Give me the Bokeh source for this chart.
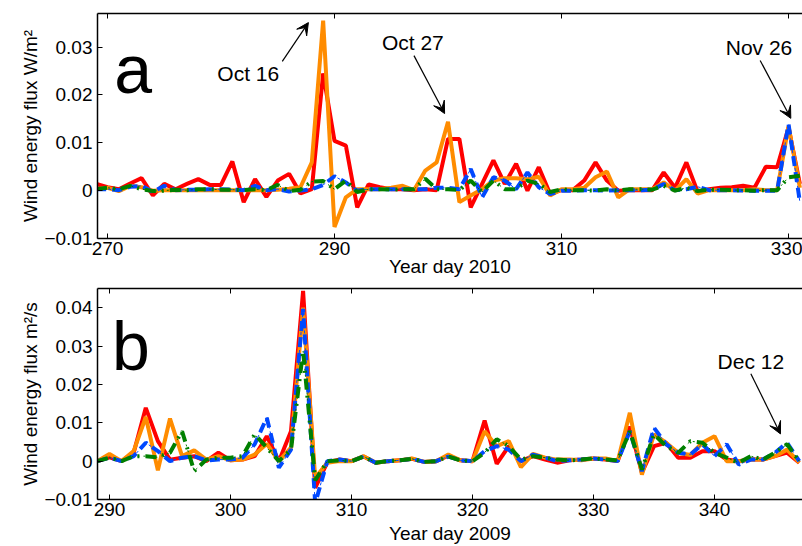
from bokeh.plotting import figure
from bokeh.layouts import column
from bokeh.models import (Arrow, VeeHead, Label, FixedTicker, LinearAxis,
                          CustomJSTickFormatter, Range1d)
from bokeh.embed import file_html
from bokeh.resources import INLINE

# ---------------- data: panel a (year day 2010) ----------------
days_a = list(range(269, 332))
red_a = [0.0014, 0.0007, 0.0003, 0.0015, 0.0026, -0.0010, 0.0014, 0.0003, 0.0014, 0.0024,
         0.0012, 0.0012, 0.0061, -0.0024, 0.0024, -0.0013, 0.0021, 0.0035, -0.0006, 0.0003,
         0.0245, 0.0104, 0.0094, -0.0035, 0.0013, 0.0007, 0.0003, 0.0003, 0.0001, 0.0003,
         0.0001, 0.0108, 0.0108, -0.0035, 0.0014, 0.0063, 0.0014, 0.0056, 0.0000, 0.0049,
         -0.0007, 0.0001, 0.0001, 0.0021, 0.0059, 0.0021, 0.0000, 0.0001, 0.0001, 0.0001,
         0.0038, 0.0006, 0.0059, -0.0003, 0.0003, 0.0006, 0.0007, 0.0010, 0.0006, 0.0050,
         0.0049, 0.0132, 0.0014]
orange_a = [0.0003, 0.0006, -0.0001, 0.0010, 0.0007, 0.0000, 0.0001, 0.0001, 0.0001, 0.0001,
            0.0001, 0.0001, 0.0001, 0.0001, 0.0001, 0.0001, 0.0002, 0.0004, 0.0007, 0.0059,
            0.0355, -0.0076, -0.0014, 0.0003, 0.0003, 0.0003, 0.0006, 0.0010, 0.0001, 0.0042,
            0.0059, 0.0144, -0.0024, -0.0010, 0.0003, 0.0021, 0.0026, 0.0026, 0.0024, 0.0029,
            -0.0010, 0.0003, 0.0003, 0.0006, 0.0028, 0.0040, -0.0014, 0.0003, 0.0003, 0.0003,
            0.0017, 0.0000, 0.0024, -0.0006, 0.0001, 0.0001, 0.0001, 0.0001, 0.0003, 0.0001,
            0.0001, 0.0135, 0.0006]
blue_a = [0.0003, 0.0003, 0.0001, 0.0008, 0.0010, -0.0003, 0.0010, 0.0001, 0.0002, 0.0002,
          0.0003, 0.0003, 0.0002, 0.0001, 0.0010, 0.0001, 0.0003, -0.0002, 0.0000, 0.0003,
          0.0012, 0.0030, 0.0017, 0.0000, 0.0003, 0.0003, 0.0003, 0.0003, 0.0003, 0.0003,
          0.0006, 0.0006, 0.0003, 0.0045, -0.0014, 0.0028, 0.0021, 0.0003, 0.0038, 0.0007,
          -0.0007, 0.0000, 0.0000, 0.0001, 0.0001, 0.0000, 0.0001, 0.0001, 0.0001, 0.0002,
          0.0014, 0.0001, 0.0003, 0.0008, 0.0001, 0.0001, 0.0001, 0.0000, 0.0000, 0.0000,
          0.0000, 0.0139, -0.0024]
green_a = [0.0003, 0.0006, 0.0003, 0.0010, 0.0003, -0.0001, 0.0000, 0.0002, 0.0001, 0.0003,
           0.0003, 0.0002, 0.0002, 0.0001, 0.0003, 0.0001, 0.0012, -0.0001, 0.0002, 0.0019,
           0.0020, 0.0003, 0.0021, -0.0003, 0.0003, 0.0003, 0.0002, 0.0003, 0.0003, 0.0025,
           0.0003, 0.0003, 0.0001, 0.0021, -0.0003, 0.0021, 0.0003, 0.0003, 0.0021, 0.0014,
           -0.0003, 0.0003, 0.0001, 0.0001, 0.0000, 0.0003, 0.0000, 0.0003, 0.0003, 0.0002,
           0.0010, 0.0000, 0.0006, -0.0001, 0.0002, 0.0002, 0.0001, 0.0001, 0.0000, 0.0001,
           0.0001, 0.0028, 0.0031]

# ---------------- data: panel b (year day 2009) ----------------
days_b = list(range(289, 348))
red_b = [0.0000, 0.0010, 0.0000, 0.0022, 0.0139, 0.0052, 0.0004, 0.0009, 0.0013, 0.0000,
         0.0022, 0.0002, 0.0004, 0.0013, 0.0065, 0.0000, 0.0078, 0.0444, -0.0070, -0.0003,
         0.0004, 0.0000, 0.0012, -0.0004, 0.0000, 0.0002, 0.0006, -0.0002, 0.0000, 0.0014,
         0.0002, 0.0000, 0.0106, -0.0007, 0.0039, 0.0000, 0.0013, 0.0004, -0.0004, 0.0002,
         0.0004, 0.0007, 0.0004, 0.0000, 0.0090, -0.0030, 0.0039, 0.0048, 0.0009, 0.0009,
         0.0026, 0.0026, 0.0004, 0.0000, 0.0004, 0.0004, 0.0013, 0.0022, -0.0004]
orange_b = [0.0000, 0.0019, 0.0000, 0.0026, 0.0115, -0.0024, 0.0111, 0.0013, 0.0028, 0.0004,
            0.0013, 0.0002, 0.0004, 0.0017, 0.0045, 0.0000, 0.0035, 0.0400, -0.0044, -0.0004,
            0.0000, 0.0000, 0.0013, -0.0004, 0.0000, 0.0002, 0.0007, -0.0002, 0.0000, 0.0017,
            0.0002, 0.0000, 0.0078, 0.0039, 0.0052, -0.0016, 0.0019, 0.0009, 0.0004, 0.0004,
            0.0002, 0.0007, 0.0007, 0.0000, 0.0126, -0.0035, 0.0070, 0.0048, 0.0022, 0.0016,
            0.0048, 0.0065, 0.0000, 0.0000, 0.0004, 0.0004, 0.0013, 0.0030, -0.0004]
blue_b = [0.0000, 0.0009, 0.0000, 0.0013, 0.0048, 0.0026, 0.0000, 0.0009, 0.0013, 0.0002,
          0.0004, 0.0004, 0.0009, 0.0044, 0.0113, -0.0017, 0.0030, 0.0397, -0.0110, 0.0000,
          0.0004, 0.0000, 0.0012, -0.0004, 0.0000, 0.0002, 0.0006, -0.0002, 0.0000, 0.0012,
          0.0002, 0.0000, 0.0026, 0.0039, 0.0030, 0.0000, 0.0017, 0.0009, 0.0000, 0.0002,
          0.0004, 0.0007, 0.0004, 0.0000, 0.0078, -0.0026, 0.0087, 0.0044, 0.0022, 0.0017,
          0.0044, 0.0013, 0.0044, -0.0009, 0.0004, 0.0004, 0.0022, 0.0048, 0.0000]
green_b = [0.0000, 0.0009, 0.0000, 0.0013, 0.0013, 0.0010, 0.0022, 0.0078, -0.0026, 0.0004,
           0.0009, 0.0009, 0.0013, 0.0070, 0.0035, 0.0000, 0.0030, 0.0287, -0.0050, 0.0000,
           0.0002, 0.0000, 0.0012, -0.0004, 0.0000, 0.0002, 0.0006, -0.0002, 0.0000, 0.0012,
           0.0002, 0.0000, 0.0022, 0.0057, 0.0039, 0.0004, 0.0013, 0.0009, 0.0004, 0.0002,
           0.0004, 0.0007, 0.0004, 0.0002, 0.0078, -0.0022, 0.0070, 0.0039, 0.0022, 0.0052,
           0.0048, 0.0022, 0.0009, -0.0004, 0.0013, 0.0004, 0.0022, 0.0044, 0.0000]

xticks_a = [270, 290, 310, 330]
xticks_b = [290, 300, 310, 320, 330, 340]
yticks_a = [-0.01, 0.0, 0.01, 0.02, 0.03]
yticks_b = [-0.01, 0.0, 0.01, 0.02, 0.03, 0.04]

# annotations: (text, text_x, text_y, tail_x, tail_y, head_x, head_y)
notes_a = [("Oct 16", 282.4, 0.0245, 285.4, 0.0270, 287.7, 0.0351),
           ("Oct 27", 296.9, 0.0309, 297.0, 0.0282, 299.7, 0.0161),
           ("Nov 26", 327.4, 0.0299, 327.5, 0.0272, 330.2, 0.0151)]
notes_b = [("Dec 12", 343.0, 0.0260, 343.0, 0.0228, 345.45, 0.0071)]

FONT = "Liberation Sans"
RED, ORANGE, BLUE, GREEN = "#ff0000", "#ff8c00", "#0048ff", "#008000"

yfmt_code = """
if (Math.abs(tick) < 1e-12) { return '0'; }
var s = Math.abs(tick).toFixed(2);
return (tick < 0 ? '\u2212' : '') + s;
"""


def style_axis(ax):
    ax.major_label_text_font = FONT
    ax.major_label_text_font_size = "19px"
    ax.major_label_text_color = "black"
    ax.axis_label_text_font = FONT
    ax.axis_label_text_font_size = "19px"
    ax.axis_label_text_font_style = "normal"
    ax.axis_label_text_color = "black"
    ax.axis_line_color = "black"
    ax.axis_line_width = 1.5
    ax.major_tick_in = 5
    ax.major_tick_out = 0
    ax.major_tick_line_color = "black"
    ax.minor_tick_line_color = None


def make_panel(days, series, xr, yr, xticks, yticks, xlabel, ylabel, letter,
               letter_pos, notes, height, b_top, b_bottom, xl_standoff):
    p = figure(width=802, height=height, output_backend="svg", toolbar_location=None,
               x_range=Range1d(*xr), y_range=Range1d(*yr),
               min_border_left=97, min_border_right=0,
               min_border_top=b_top, min_border_bottom=b_bottom)
    p.outline_line_color = None
    p.grid.visible = False
    p.background_fill_color = "white"
    p.border_fill_color = "white"

    red, orange, blue, green = series
    p.line(days, red, line_color=RED, line_width=4)
    p.line(days, orange, line_color=ORANGE, line_width=4)
    p.line(days, blue, line_color=BLUE, line_width=1, line_dash="3 3")
    p.line(days, blue, line_color=BLUE, line_width=4, line_dash="10 6")
    p.line(days, green, line_color=GREEN, line_width=1, line_dash="2 4")
    p.line(days, green, line_color=GREEN, line_width=4, line_dash="11 6 2 6")

    xa = p.xaxis[0]
    xa.ticker = FixedTicker(ticks=xticks)
    xa.axis_label = xlabel
    style_axis(xa)
    xa.major_label_standoff = 3
    xa.axis_label_standoff = xl_standoff

    ya = p.yaxis[0]
    ya.ticker = FixedTicker(ticks=yticks)
    ya.formatter = CustomJSTickFormatter(code=yfmt_code)
    ya.axis_label = ylabel
    style_axis(ya)
    ya.major_label_standoff = 5
    ya.axis_label_standoff = 0

    top = LinearAxis(ticker=FixedTicker(ticks=xticks), major_label_standoff=0)
    style_axis(top)
    top.major_label_text_font_size = "0px"
    top.major_label_text_color = None
    p.add_layout(top, "above")

    lx, ly = letter_pos
    p.add_layout(Label(x=lx, y=ly, text=letter, text_font=FONT, text_font_size="68px",
                       text_color="black", text_baseline="alphabetic", text_align="left"))

    for (t, tx, ty, ax0, ay0, ax1, ay1) in notes:
        p.add_layout(Label(x=tx, y=ty, text=t, text_font=FONT, text_font_size="21px",
                           text_color="black", text_align="center", text_baseline="middle"))
        p.add_layout(Arrow(x_start=ax0, y_start=ay0, x_end=ax1, y_end=ay1,
                           line_color="black", line_width=1.2,
                           end=VeeHead(size=12, fill_color="black", line_color="black",
                                       line_width=1)))
    return p


pa = make_panel(days_a, (red_a, orange_a, blue_a, green_a), (269.12, 331.23), (-0.01, 0.037),
                xticks_a, yticks_a, "Year day 2010", "Wind energy flux W/m\u00b2", "a",
                (270.6, 0.0255), notes_a, height=282, b_top=13, b_bottom=44, xl_standoff=-2)
pb = make_panel(days_b, (red_b, orange_b, blue_b, green_b), (289.01, 347.27), (-0.01, 0.045),
                xticks_b, yticks_b, "Year day 2009", "Wind energy flux m\u00b2/s", "b",
                (290.2, 0.0301), notes_b, height=264, b_top=6, b_bottom=47, xl_standoff=4)

layout = column(pa, pb, spacing=0)
open("out.html", "w").write(file_html(layout, INLINE))
